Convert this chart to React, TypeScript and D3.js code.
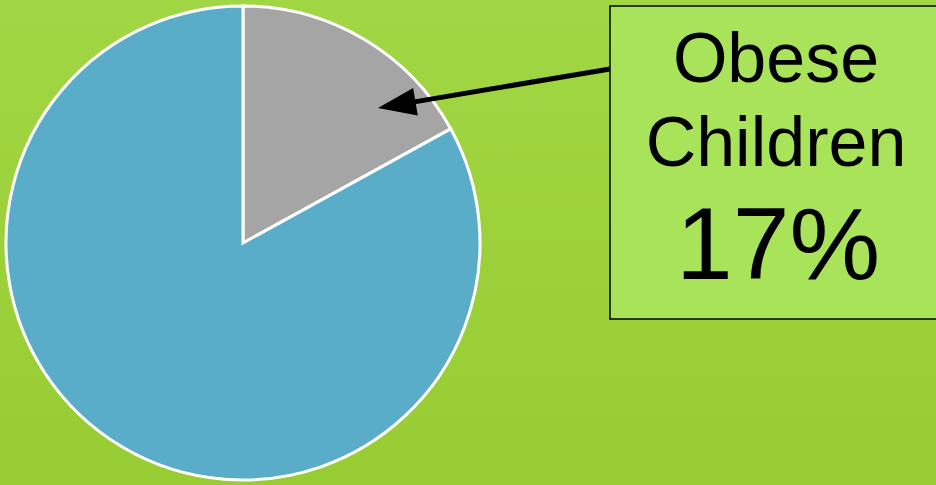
import React from "react";
import * as d3 from "d3";

const categories = ["Obese Children", "Other Children"];
const values = [17, 83];
const colors = ["#a5a5a5", "#59adc9"];
const labelLines = ["Obese", "Children"];
const labelValue = "17%";

export default function App() {
  const W = 936, H = 485;
  const cx = 243, cy = 243, r = 237;
  const pie = d3.pie<number>().sort(null).value((d) => d)(values);
  const arc = d3.arc<d3.PieArcDatum<number>>().innerRadius(0).outerRadius(r);
  const font = "'Liberation Sans', Arial, sans-serif";

  // arrow geometry
  const sx = 610, sy = 69, tx = 378, ty = 108;
  const ang = Math.atan2(ty - sy, tx - sx);
  const headLen = 38, headHalf = 14;
  const bx = tx - headLen * Math.cos(ang), by = ty - headLen * Math.sin(ang);
  const px = -Math.sin(ang), py = Math.cos(ang);
  const head = `M${tx},${ty} L${bx + px * headHalf},${by + py * headHalf} L${bx - px * headHalf},${by - py * headHalf} Z`;
  const lx = tx - (headLen - 4) * Math.cos(ang), ly = ty - (headLen - 4) * Math.sin(ang);

  return (
    <svg width={W} height={H} style={{ position: "absolute", left: 0, top: 0, display: "block" }}>
      <defs>
        <linearGradient id="bg" x1="0" y1="0" x2="0" y2="1">
          <stop offset="0" stopColor="#a1d744" />
          <stop offset="1" stopColor="#98cc33" />
        </linearGradient>
      </defs>
      <rect x={0} y={0} width={W} height={H} fill="url(#bg)" />
      <g transform={`translate(${cx},${cy})`}>
        {pie.map((p, i) => (
          <path key={categories[i]} d={arc(p) || ""} fill={colors[i]} stroke="#fff" strokeWidth={3} />
        ))}
      </g>
      <line x1={sx} y1={sy} x2={lx} y2={ly} stroke="#000" strokeWidth={5} />
      <path d={head} fill="#000" />
      <rect x={610} y={6} width={330} height={313} fill="#a9e35a" stroke="#000" strokeWidth={1.5} />
      <text x={776} y={82} textAnchor="middle" fontFamily={font} fontSize={70} fill="#000">{labelLines[0]}</text>
      <text x={776} y={166} textAnchor="middle" fontFamily={font} fontSize={70} fill="#000">{labelLines[1]}</text>
      <text x={778} y={279} textAnchor="middle" fontFamily={font} fontSize={102} fill="#000">{labelValue}</text>
    </svg>
  );
}
